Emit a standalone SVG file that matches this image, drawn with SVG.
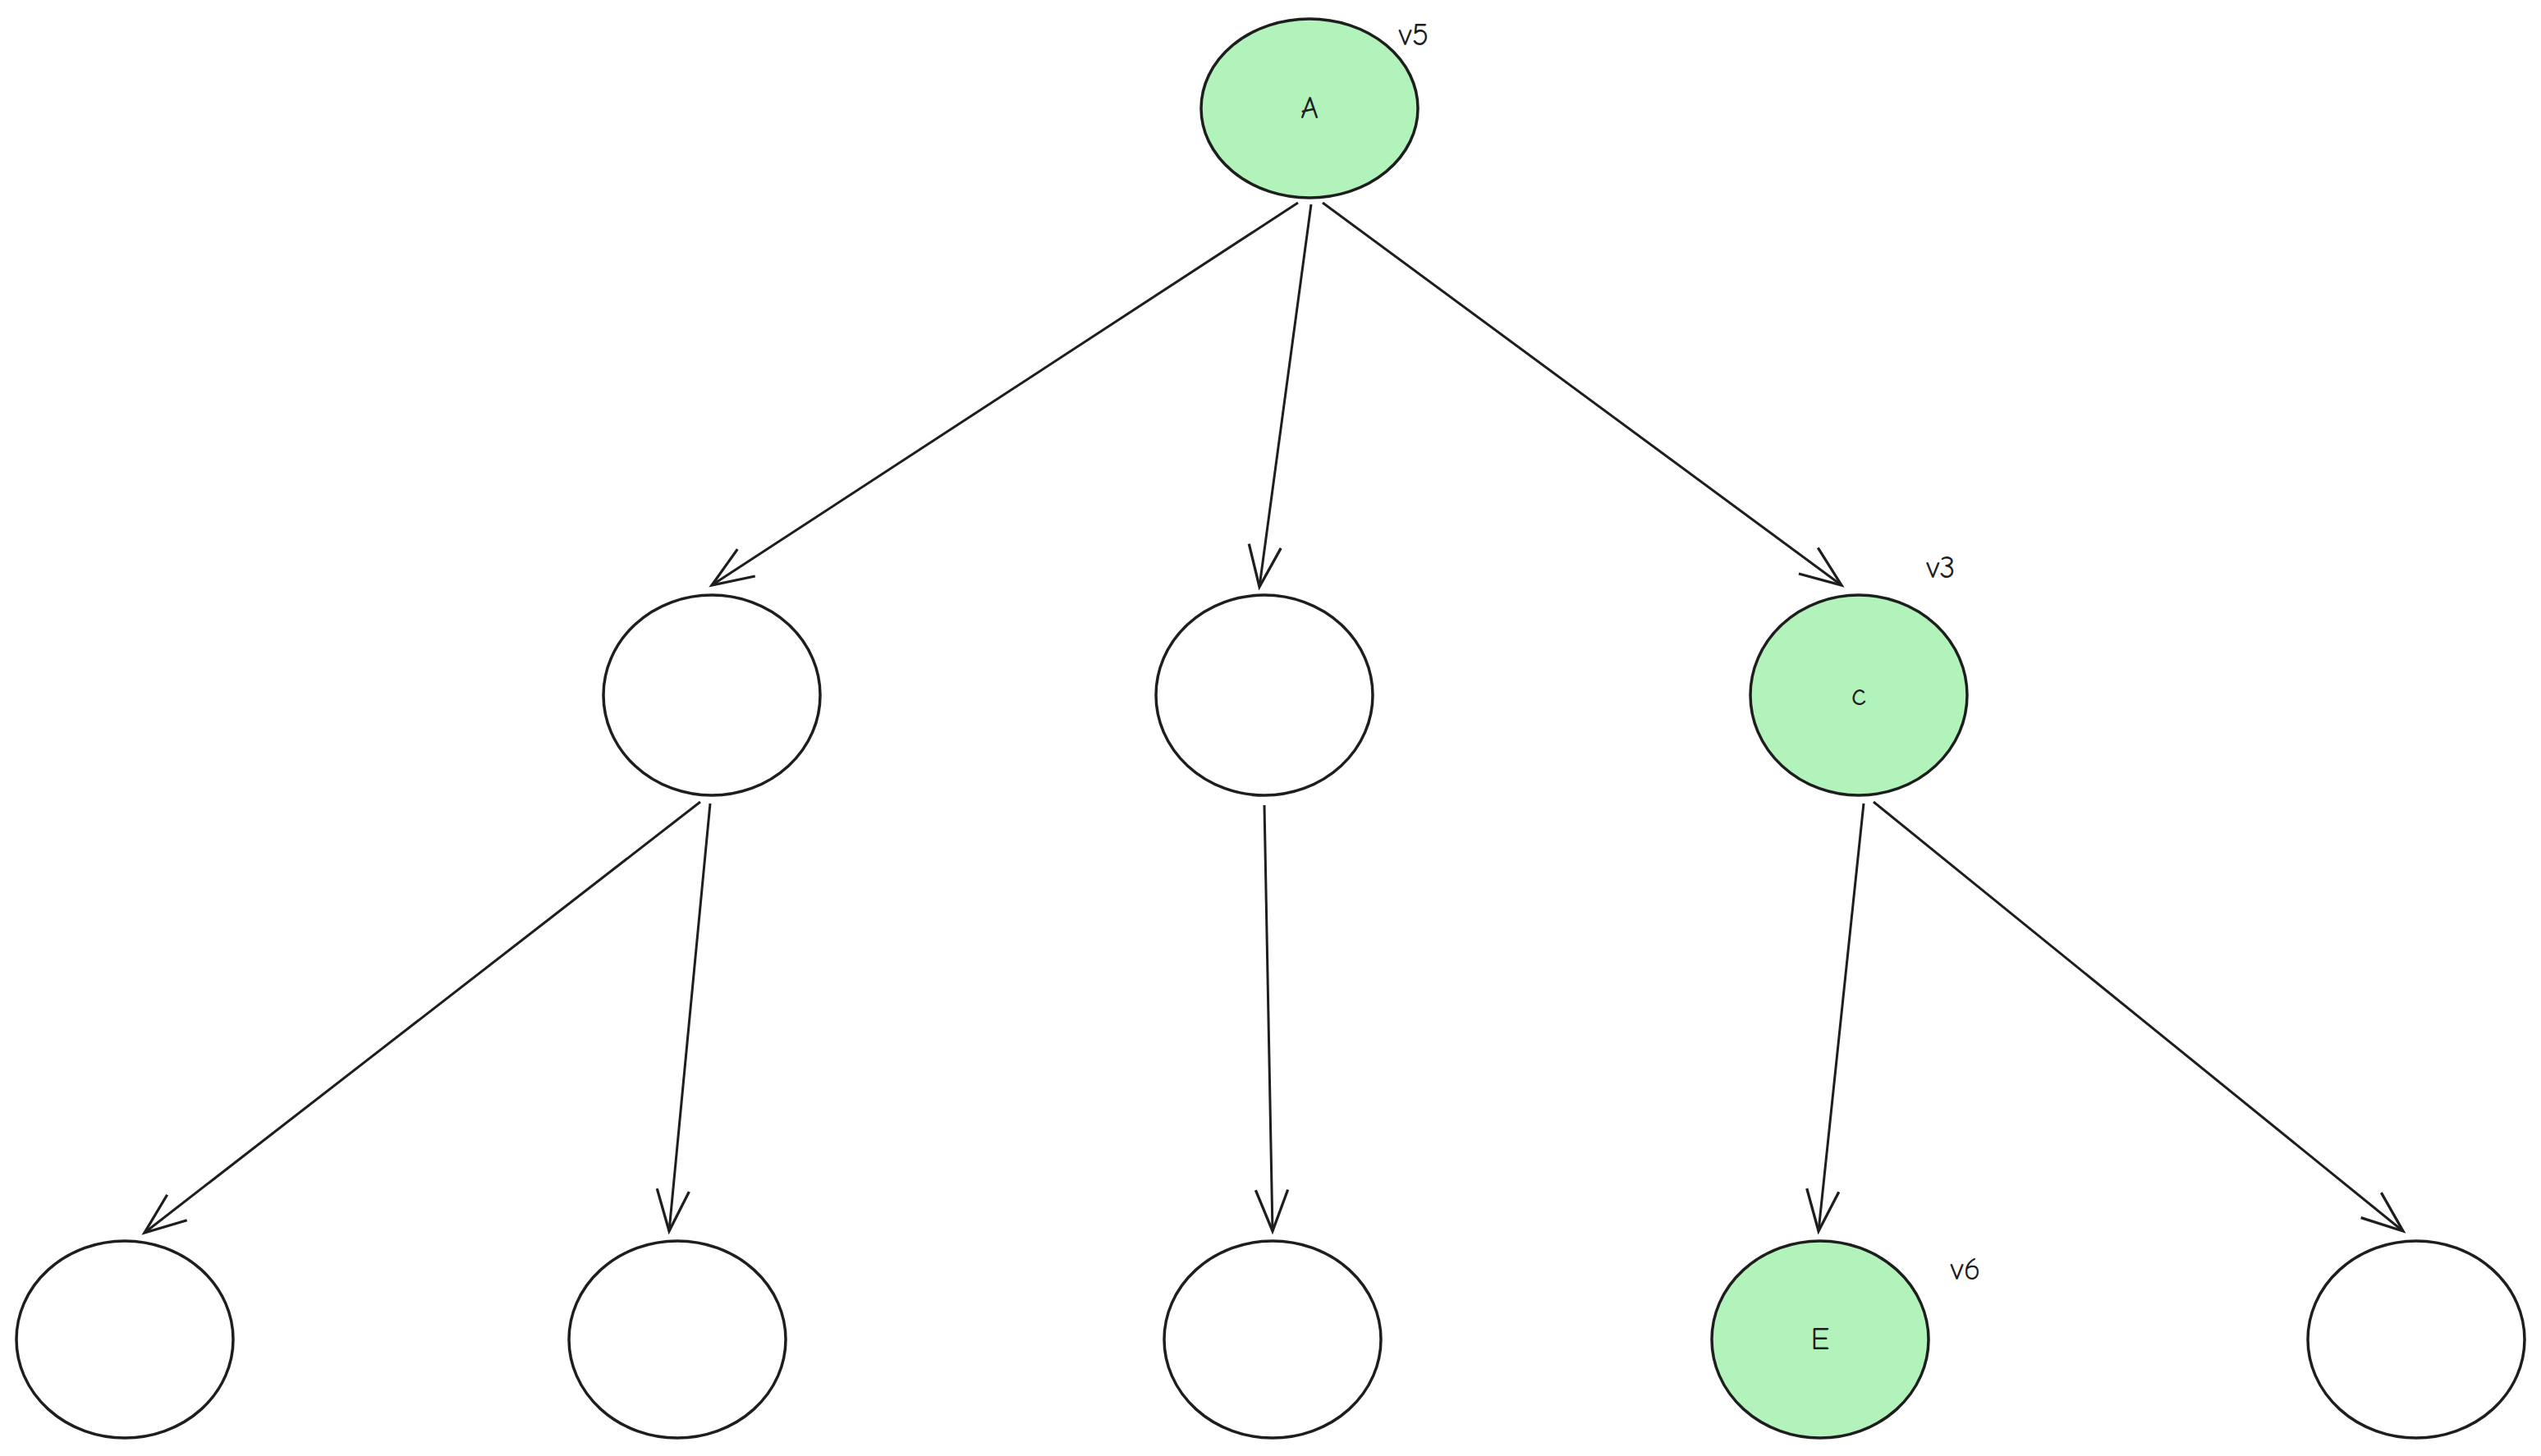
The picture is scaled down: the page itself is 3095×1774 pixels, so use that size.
<svg xmlns="http://www.w3.org/2000/svg" width="3095" height="1774" viewBox="0 0 3095 1774">
<style>
.n{stroke:#1e1e1e;stroke-width:3.5;fill:#ffffff}
.g{fill:#b2f2bb}
.e{stroke:#1e1e1e;stroke-width:3;fill:none;marker-end:url(#ah)}
text{font-family:"Comic Neue","Liberation Sans",sans-serif;font-size:38px;fill:#1e1e1e;text-anchor:middle;dominant-baseline:central}
</style>
<defs>
<marker id="ah" markerUnits="userSpaceOnUse" markerWidth="60" markerHeight="60" viewBox="-50 -25 55 50" refX="0" refY="0" orient="auto">
<path d="M-46,-18 L0,0 L-46,18" fill="none" stroke="#1e1e1e" stroke-width="3"/>
</marker>
</defs>
<rect width="3095" height="1774" fill="#ffffff"/>
<g id="connectors">
<line class="e" x1="1581" y1="247" x2="867" y2="713"/>
<line class="e" x1="1597" y1="249" x2="1534" y2="715"/>
<line class="e" x1="1611" y1="247" x2="2243" y2="713"/>
<line class="e" x1="853" y1="977" x2="176" y2="1502"/>
<line class="e" x1="865" y1="979" x2="815" y2="1500"/>
<line class="e" x1="1540" y1="981" x2="1550" y2="1500"/>
<line class="e" x1="2270" y1="979" x2="2215" y2="1500"/>
<line class="e" x1="2282" y1="977" x2="2927" y2="1500"/>
</g>
<g id="nA"><ellipse class="n g" cx="1595" cy="132" rx="132" ry="109"/><text x="1595" y="132">A</text></g>
<g id="nB"><ellipse class="n" cx="867" cy="847" rx="132" ry="122"/></g>
<g id="nM"><ellipse class="n" cx="1540" cy="847" rx="132" ry="122"/></g>
<g id="nC"><ellipse class="n g" cx="2264" cy="847" rx="132" ry="122"/><text x="2264" y="847">c</text></g>
<g id="n1"><ellipse class="n" cx="152" cy="1632" rx="132" ry="120"/></g>
<g id="n2"><ellipse class="n" cx="825" cy="1632" rx="132" ry="120"/></g>
<g id="n3"><ellipse class="n" cx="1550" cy="1632" rx="132" ry="120"/></g>
<g id="nE"><ellipse class="n g" cx="2217" cy="1632" rx="132" ry="120"/><text x="2217" y="1632">E</text></g>
<g id="n5"><ellipse class="n" cx="2943" cy="1632" rx="132" ry="120"/></g>
<g id="labels">
<text x="1722" y="43">v5</text>
<text x="2364" y="692">v3</text>
<text x="2394" y="1547">v6</text>
</g>
</svg>
